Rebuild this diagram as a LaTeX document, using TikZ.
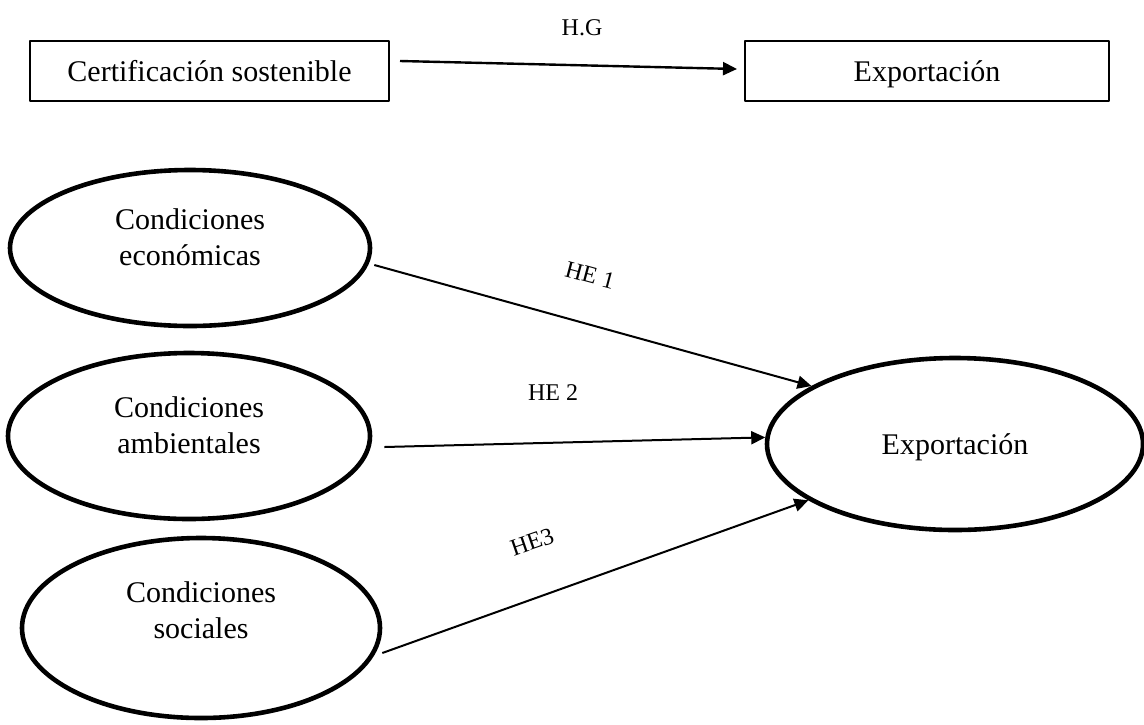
\documentclass[tikz,border=0pt]{standalone}
\usepackage{fontspec}
\setmainfont{Liberation Serif}
\usetikzlibrary{shapes.geometric,arrows.meta}
\tikzset{
	caja/.style={draw,line width=1pt,minimum width=#1,minimum height=30pt,inner sep=0pt,text depth=0pt},
	elipse/.style={draw,ellipse,line width=2.3pt,inner sep=0pt,align=center},
	etiq/.style={font=\fontsize{12}{14}\selectfont,inner sep=0pt}
}
\begin{document}
\begin{tikzpicture}[x=0.5pt,y=-0.5pt,font=\fontsize{15}{18}\selectfont, line join=round, >={Triangle[length=7pt,width=6.5pt]}]
	\useasboundingbox (0,0) rectangle (1144,724);
	% hipotesis general
	\node[caja=179.5pt] (cert) at (209.5,71) {Certificación sostenible};
	\node[caja=182pt] (expcaja) at (927,71) {Exportación};
	\draw[->,line width=1.2pt] ([shift={(10,-10)}]cert.east) -- ([shift={(-7,-2)}]expcaja.west);
	\node[etiq] (hg) at (582,28) {H.G};
	% hipotesis especificas
	\node[elipse,minimum width=180pt,minimum height=78pt,text depth=11pt] (econ) at (190,248) {Condiciones\\económicas};
	\node[elipse,minimum width=181pt,minimum height=83pt,text depth=11pt] (amb) at (189,436) {Condiciones\\ambientales};
	\node[elipse,minimum width=179pt,minimum height=90pt,text depth=18pt] (soc) at (201,628) {Condiciones\\sociales};
	\node[elipse,minimum width=188pt,minimum height=86pt,text depth=0pt] (expo) at (955,444) {Exportación};
	\draw[->,line width=1pt] ([shift={(2,17)}]econ.east) -- (expo.158);
	\draw[->,line width=1pt] ([shift={(12,11)}]amb.east) -- (expo.178);
	\draw[->,line width=1pt] ([shift={(0,25)}]soc.east) -- (expo.201);
	\node[etiq,rotate=-15] (he1) at (590,275) {HE 1};
	\node[etiq] (he2) at (553,393) {HE 2};
	\node[etiq,rotate=19] (he3) at (532,542) {HE3};
\end{tikzpicture}
\end{document}
